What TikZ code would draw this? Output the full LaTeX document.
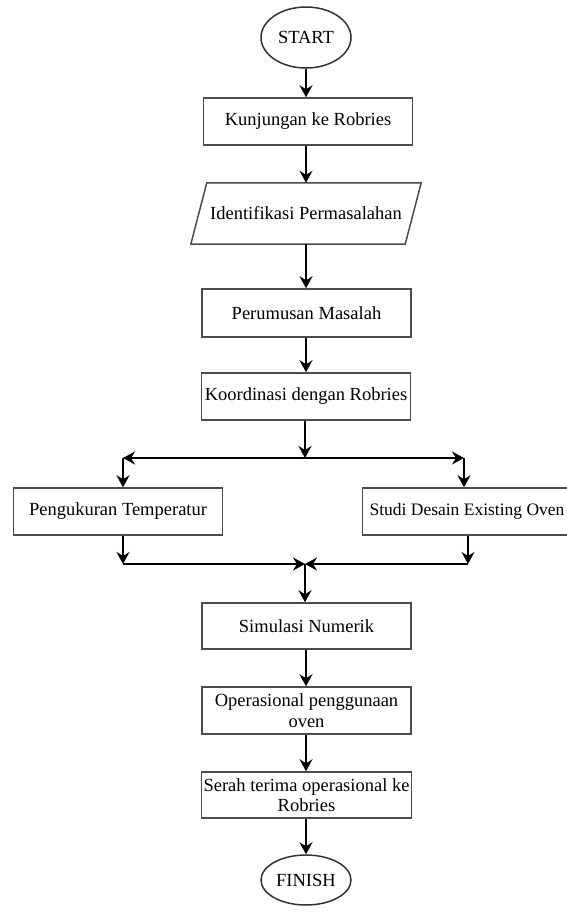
\documentclass[tikz,border=0pt]{standalone}
\usepackage{fontspec}
\setmainfont{Liberation Serif}
\usetikzlibrary{arrows.meta,shapes.geometric}
\tikzset{
  >={Stealth[length=12pt,width=13pt,inset=4pt]},
}
\tikzstyle{every node}=[font=\fontsize{18.5}{20.5}\selectfont]
\tikzstyle{box}=[draw=black!70,line width=1.5pt,minimum width=209pt,minimum height=47pt,inner sep=2pt,align=center]
\tikzstyle{term}=[ellipse,draw=black!80,line width=1.5pt,minimum width=90pt,inner sep=0pt]
\tikzstyle{iobox}=[draw=black!70,line width=1.5pt]
\tikzstyle{flow}=[line width=2pt,->]

\begin{document}
\begin{tikzpicture}[x=1pt,y=-1pt]
  \useasboundingbox (0,0) rectangle (566,916);
  % main column
  \node[term,minimum height=61pt] (start) at (306,37.5) {START};
  \node[box] (visit) at (308,121.5) {Kunjungan ke Robries};
  \node[minimum width=214pt,minimum height=61pt] (ident) at (306,213.5) {Identifikasi Permasalahan};
  \draw[iobox] ([xshift=-8pt]ident.south west) -- ([xshift=8pt]ident.north west)
    -- ([xshift=8pt]ident.north east) -- ([xshift=-8pt]ident.south east) -- cycle;
  \node[box,minimum height=48pt] (formul) at (306.5,313) {Perumusan Masalah};
  \node[box] (coord) at (306,396.5) {Koordinasi dengan Robries};
  % two branches
  \coordinate (split) at (305,458);
  \coordinate (splitl) at (123,458);
  \coordinate (splitr) at (464,458);
  \node[box] (temp) at (118,511.5) {Pengukuran Temperatur};
  \node[box,font=\fontsize{17.5}{20}\selectfont] (study) at (467,511.5) {Studi Desain Existing Oven};
  \coordinate (merge) at (305,564);
  \coordinate (mergel) at (123,564);
  \coordinate (merger) at (468,564);
  \node[box,minimum height=46pt] (simul) at (306.5,626) {Simulasi Numerik};
  \node[box] (oper) at (306.5,710.5) {Operasional penggunaan\\oven};
  \node[box,minimum height=46pt] (handover) at (306.5,795) {Serah terima operasional ke\\Robries};
  \node[term,minimum height=50pt] (finish) at (306,880) {FINISH};

  \draw[flow] (start) -- (start |- visit.north);
  \draw[flow] (start |- visit.south) -- (start |- ident.north);
  \draw[flow] (start |- ident.south) -- (start |- formul.north);
  \draw[flow] (start |- formul.south) -- (start |- coord.north);
  \draw[flow] (split |- coord.south) -- (split);
  \draw[flow] (split) -- (splitl);
  \draw[flow] (split) -- (splitr);
  \draw[flow] (splitl) -- (splitl |- temp.north);
  \draw[flow] (splitr) -- (splitr |- study.north);
  \draw[flow] (mergel |- temp.south) -- (mergel);
  \draw[flow] (merger |- study.south) -- (merger);
  \draw[flow] (mergel) -- (merge);
  \draw[flow] (merger) -- (merge);
  \draw[flow] (merge) -- (merge |- simul.north);
  \draw[flow] (start |- simul.south) -- (start |- oper.north);
  \draw[flow] (start |- oper.south) -- (start |- handover.north);
  \draw[flow] (start |- handover.south) -- (finish);
\end{tikzpicture}
\end{document}
